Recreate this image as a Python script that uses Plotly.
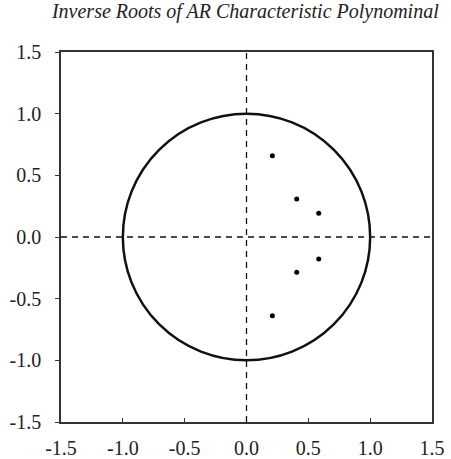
import plotly.graph_objects as go

root_re = [0.209, 0.406, 0.584, 0.584, 0.406, 0.209]
root_im = [0.659, 0.308, 0.192, -0.178, -0.286, -0.638]
tick_vals = [-1.5, -1.0, -0.5, 0.0, 0.5, 1.0, 1.5]
tick_text = ["-1.5", "-1.0", "-0.5", "0.0", "0.5", "1.0", "1.5"]
title = "Inverse Roots of AR Characteristic Polynominal"

font_fam = "Liberation Serif, DejaVu Serif, serif"
axcol = "#333333"

fig = go.Figure()
fig.add_trace(go.Scatter(x=root_re, y=root_im, mode="markers",
                         marker=dict(color="black", size=5), showlegend=False,
                         hoverinfo="x+y"))

fig.add_shape(type="circle", xref="x", yref="y", x0=-1, y0=-1, x1=1, y1=1,
              line=dict(color="#111111", width=2.5))
fig.add_shape(type="line", xref="x", yref="y", x0=0, x1=0, y0=-1.5, y1=1.5,
              line=dict(color="#111111", width=1.3, dash="6px,5px"))
fig.add_shape(type="line", xref="x", yref="y", x0=-1.5, x1=1.5, y0=0, y1=0,
              line=dict(color="#111111", width=1.3, dash="6px,5px"))

axis_common = dict(range=[-1.5, 1.5], tickvals=tick_vals, ticktext=tick_text,
                   showgrid=False, zeroline=False, showline=True, mirror=True,
                   linecolor=axcol, linewidth=1.5, tickcolor=axcol, ticklen=4,
                   tickwidth=1.2, automargin=False,
                   tickfont=dict(family=font_fam, size=20, color="#222"))

fig.update_xaxes(**axis_common, ticks="inside", ticklabelstandoff=7)
fig.update_yaxes(**axis_common, ticks="outside", ticklabelstandoff=10)

fig.update_layout(
    width=451, height=459,
    margin=dict(l=61, r=19, t=52, b=37),
    paper_bgcolor="white", plot_bgcolor="white",
    title=dict(text=title, x=0.544, xanchor="center", y=1 - 4 / 459, yanchor="top",
               font=dict(family=font_fam, size=20, color="#222", style="italic")),
)

fig.write_html("out.html", config={"displayModeBar": False},
               post_script="document.body.style.margin='0';")
